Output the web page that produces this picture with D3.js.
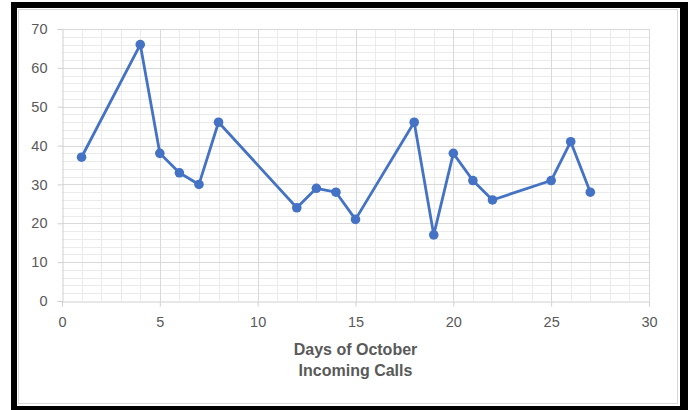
<!DOCTYPE html>
<html>
<head>
<meta charset="utf-8">
<script src="https://cdn.jsdelivr.net/npm/d3@7"></script>
<style>
  body { margin: 0; background: #fff; }
  text { font-family: "Liberation Sans", Arial, sans-serif; }
</style>
</head>
<body>
<div id="chart"></div>
<script>
// days of October and number of incoming calls
var days  = [1, 4, 5, 6, 7, 8, 12, 13, 14, 15, 18, 19, 20, 21, 22, 25, 26, 27];
var calls = [37, 66, 38, 33, 30, 46, 24, 29, 28, 21, 46, 17, 38, 31, 26, 31, 41, 28];
var xTicks = [0, 5, 10, 15, 20, 25, 30];
var yTicks = [0, 10, 20, 30, 40, 50, 60, 70];
var titleLines = ["Days of October", "Incoming Calls"];

var w = 691, h = 410;
var svg = d3.select("#chart").append("svg")
  .attr("width", w)
  .attr("height", h);

// frame
svg.append("rect").attr("x", 11).attr("y", 2).attr("width", 677).attr("height", 408).attr("fill", "#000");
svg.append("rect").attr("x", 17).attr("y", 8).attr("width", 663).attr("height", 398).attr("fill", "#fff");
svg.append("rect").attr("x", 18.5).attr("y", 9.5).attr("width", 659).attr("height", 394)
  .attr("fill", "none").attr("stroke", "#d9d9d9").attr("stroke-width", 1);

var x = d3.scaleLinear().domain([0, 30]).range([62, 649]);
var y = d3.scaleLinear().domain([0, 70]).range([301, 29]);

// minor grid
svg.append("g").selectAll("line")
  .data(d3.range(1, 30).filter(function(d){ return d % 5 != 0; }))
  .enter().append("line")
  .attr("x1", function(d){ return Math.round(x(d)) + 0.5; })
  .attr("x2", function(d){ return Math.round(x(d)) + 0.5; })
  .attr("y1", y(0)).attr("y2", y(70))
  .attr("stroke", "#ebebeb");
svg.append("g").selectAll("line")
  .data(d3.range(2, 70, 2).filter(function(d){ return d % 10 != 0; }))
  .enter().append("line")
  .attr("y1", function(d){ return Math.round(y(d)) + 0.5; })
  .attr("y2", function(d){ return Math.round(y(d)) + 0.5; })
  .attr("x1", x(0)).attr("x2", x(30))
  .attr("stroke", "#ebebeb");

// major grid
svg.append("g").selectAll("line")
  .data(xTicks.slice(1))
  .enter().append("line")
  .attr("x1", function(d){ return Math.round(x(d)) + 0.5; })
  .attr("x2", function(d){ return Math.round(x(d)) + 0.5; })
  .attr("y1", y(0)).attr("y2", y(70))
  .attr("stroke", "#d9d9d9");
svg.append("g").selectAll("line")
  .data(yTicks.slice(1))
  .enter().append("line")
  .attr("y1", function(d){ return Math.round(y(d)) + 0.5; })
  .attr("y2", function(d){ return Math.round(y(d)) + 0.5; })
  .attr("x1", x(0)).attr("x2", x(30))
  .attr("stroke", "#d9d9d9");

// axes
var xAxis = svg.append("g")
  .attr("transform", "translate(0," + (Math.round(y(0)) + 0.5) + ")")
  .call(d3.axisBottom(x).tickValues(xTicks).tickSize(5).tickPadding(10));
var yAxis = svg.append("g")
  .attr("transform", "translate(" + (Math.round(x(0)) + 0.5) + ",0)")
  .call(d3.axisLeft(y).tickValues(yTicks).tickSize(5).tickPadding(10));
[xAxis, yAxis].forEach(function(a){
  a.select(".domain").attr("stroke", "#d0d0d0");
  a.selectAll(".tick line").attr("stroke", "#d0d0d0");
  a.selectAll(".tick text")
    .attr("fill", "#595959")
    .style("font-size", "14.5px")
    .style("font-family", "'Liberation Sans', Arial, sans-serif");
});

// axis title
svg.selectAll(".title")
  .data(titleLines)
  .enter().append("text")
  .attr("class", "title")
  .attr("x", (x(0) + x(30)) / 2)
  .attr("y", function(d, i){ return 355 + i * 21; })
  .attr("text-anchor", "middle")
  .attr("fill", "#595959")
  .style("font-size", "16px")
  .style("font-weight", "bold")
  .text(function(d){ return d; });

// line + markers
var pts = days.map(function(d, i){ return [d, calls[i]]; });
svg.append("path")
  .datum(pts)
  .attr("fill", "none")
  .attr("stroke", "#4472C4")
  .attr("stroke-width", 2.8)
  .attr("stroke-linejoin", "round")
  .attr("d", d3.line()
    .x(function(d){ return x(d[0]); })
    .y(function(d){ return y(d[1]); }));

svg.selectAll("circle.pt")
  .data(pts)
  .enter().append("circle")
  .attr("class", "pt")
  .attr("cx", function(d){ return x(d[0]); })
  .attr("cy", function(d){ return y(d[1]); })
  .attr("r", 4.8)
  .attr("fill", "#4472C4");
</script>
</body>
</html>
